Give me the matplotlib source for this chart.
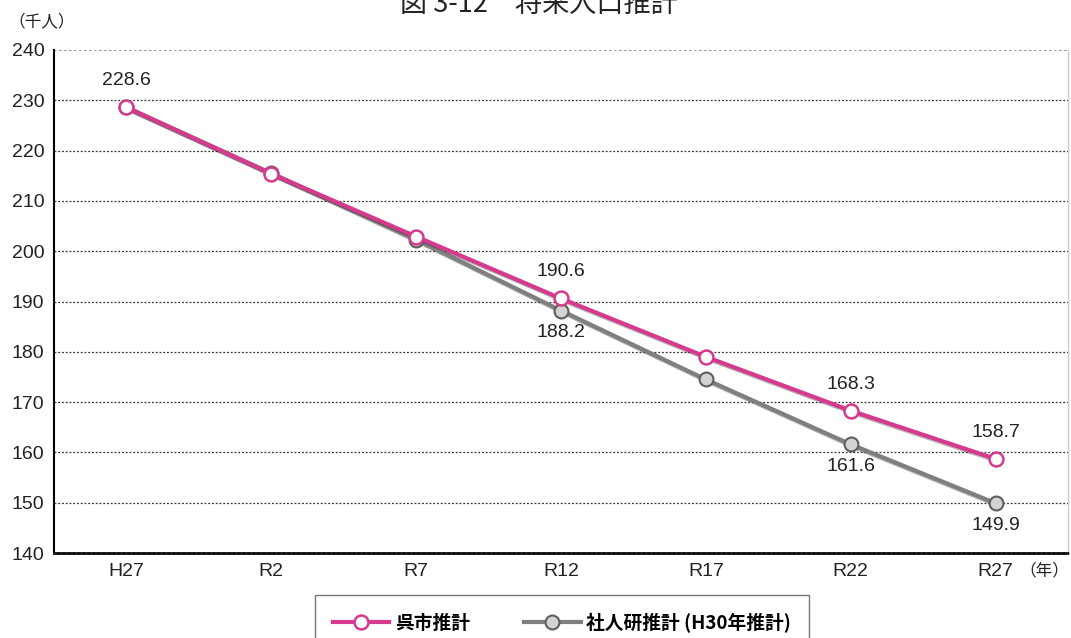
import matplotlib
matplotlib.use("Agg")
import matplotlib.pyplot as plt
import matplotlib.patheffects as pe
from matplotlib.lines import Line2D

plt.rcParams["font.family"] = ["Liberation Sans", "Noto Sans CJK JP"]

years = ["H27", "R2", "R7", "R12", "R17", "R22", "R27"]
kure = [228.6, 215.4, 202.9, 190.6, 179.0, 168.3, 158.7]
ipss = [228.6, 215.5, 202.3, 188.2, 174.5, 161.6, 149.9]
kure_labels = {0: "228.6", 3: "190.6", 5: "168.3", 6: "158.7"}
ipss_labels = {3: "188.2", 5: "161.6", 6: "149.9"}

pink = "#d63a8e"
grey = "#7f7f7f"

fig = plt.figure(figsize=(10.71, 6.38), dpi=100)
ax = fig.add_axes([54 / 1071, 1 - 553 / 638, 1014 / 1071, 503 / 638])

x = list(range(len(years)))
shadow = [pe.SimpleLineShadow(offset=(1.5, -1.5), alpha=0.3, shadow_color="black"), pe.Normal()]

# lines with a soft shadow, markers drawn on top
ax.plot(x, ipss, color=grey, lw=3, zorder=3, path_effects=shadow)
ax.plot(x, ipss, ls="none", marker="o", ms=10, mfc="#d3d3d3", mec="#5e5e5e", mew=1.5, zorder=3.5)
ax.plot(x, kure, color=pink, lw=3, zorder=4, path_effects=shadow)
ax.plot(x, kure, ls="none", marker="o", ms=10, mfc="white", mec=pink, mew=1.8, zorder=4.5)

for i, t in kure_labels.items():
    ax.annotate(t, (x[i], kure[i]), xytext=(0, 13), textcoords="offset points",
                ha="center", va="bottom", fontsize=14, color="#222222")
for i, t in ipss_labels.items():
    ax.annotate(t, (x[i], ipss[i]), xytext=(0, -10), textcoords="offset points",
                ha="center", va="top", fontsize=14, color="#222222")

ax.set_xlim(-0.5, 6.5)
ax.set_ylim(140, 240)
ax.set_yticks(range(140, 241, 10))
ax.set_xticks(x)
ax.set_xticklabels(years)
ax.tick_params(length=0, labelsize=14, colors="#222222")
ax.tick_params(axis="y", pad=7)
ax.tick_params(axis="x", pad=7)

for v in range(150, 240, 10):
    ax.axhline(v, color="#333333", lw=0.9, ls=(0, (1.5, 1.5)), zorder=1)
ax.axhline(240, color="#999999", lw=1.5, ls=(0, (1.2, 1.2)), zorder=1)

ax.spines["top"].set_visible(False)
ax.spines["left"].set_color("black")
ax.spines["left"].set_linewidth(1.5)
ax.spines["right"].set_color("#cccccc")
ax.spines["right"].set_linewidth(1.0)
ax.spines["bottom"].set_color("#111111")
ax.spines["bottom"].set_linewidth(2.0)
ax.spines["bottom"].set_linestyle((0, (1.2, 0.6)))

fig.text(539 / 1071, 1 - 4 / 638, "図 3-12　将来人口推計", ha="center", va="center",
         fontsize=19.5, family=["Noto Sans CJK JP"], color="#222222")
fig.text(8 / 1071, 1 - 22 / 638, "（千人）", ha="left", va="center",
         fontsize=12, family=["Noto Sans CJK JP"], color="#222222")
fig.text(1069 / 1071, 1 - 571 / 638, "（年）", ha="right", va="center",
         fontsize=12, family=["Noto Sans CJK JP"], color="#222222")

handles = [
    Line2D([], [], color=pink, lw=3, marker="o", ms=10, mfc="white", mec=pink, mew=1.8),
    Line2D([], [], color=grey, lw=3, marker="o", ms=10, mfc="#d3d3d3", mec="#5e5e5e", mew=1.5),
]
labels = ["呉市推計", "社人研推計 (H30年推計)"]
leg = fig.legend(handles, labels, loc="upper center", ncol=2,
                 bbox_to_anchor=(562 / 1071, 1 - 595 / 638), borderaxespad=0,
                 frameon=True, fancybox=False, edgecolor="#555555",
                 handlelength=3.0, handletextpad=0.3, columnspacing=2.9, borderpad=0.95,
                 prop={"family": "Noto Sans CJK JP", "weight": "bold", "size": 13.5})
leg.get_frame().set_linewidth(1.0)

fig.savefig("out.png", dpi=100)
plt.close(fig)
